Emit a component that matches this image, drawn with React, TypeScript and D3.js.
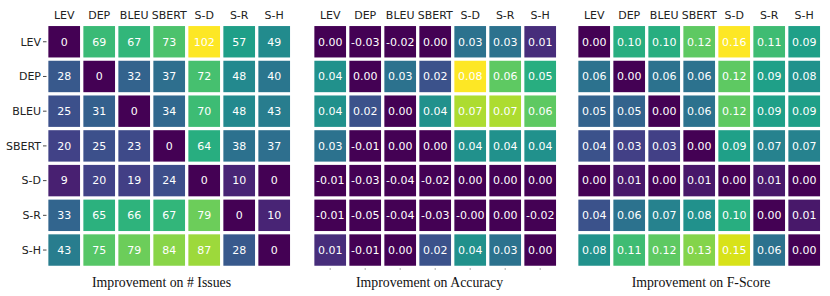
import React from 'react';
import * as d3 from 'd3';

// three heatmaps: improvement of row method over column method
const methods = ['LEV', 'DEP', 'BLEU', 'SBERT', 'S-D', 'S-R', 'S-H'];

const issuesValues = [
  [0, 69, 67, 73, 102, 57, 49],
  [28, 0, 32, 37, 72, 48, 40],
  [25, 31, 0, 34, 70, 48, 43],
  [20, 25, 23, 0, 64, 38, 37],
  [9, 20, 19, 24, 0, 10, 0],
  [33, 65, 66, 67, 79, 0, 10],
  [43, 75, 79, 84, 87, 28, 0],
];

const accuracyValues = [
  [0.0, -0.03, -0.02, 0.0, 0.03, 0.03, 0.01],
  [0.04, 0.0, 0.03, 0.02, 0.08, 0.06, 0.05],
  [0.04, 0.02, 0.0, 0.04, 0.07, 0.07, 0.06],
  [0.03, -0.01, 0.0, 0.0, 0.04, 0.04, 0.04],
  [-0.01, -0.03, -0.04, -0.02, 0.0, 0.0, 0.0],
  [-0.01, -0.05, -0.04, -0.03, -0.001, 0.0, -0.02],
  [0.01, -0.01, 0.0, 0.02, 0.04, 0.03, 0.0],
];

const fscoreValues = [
  [0.0, 0.1, 0.1, 0.12, 0.16, 0.11, 0.09],
  [0.06, 0.0, 0.06, 0.06, 0.12, 0.09, 0.08],
  [0.05, 0.05, 0.0, 0.06, 0.12, 0.09, 0.09],
  [0.04, 0.03, 0.03, 0.0, 0.09, 0.07, 0.07],
  [0.0, 0.01, 0.0, 0.01, 0.0, 0.01, 0.0],
  [0.04, 0.06, 0.07, 0.08, 0.1, 0.0, 0.01],
  [0.08, 0.11, 0.12, 0.13, 0.15, 0.06, 0.0],
];

const titles = ['Improvement on # Issues', 'Improvement on Accuracy', 'Improvement on F-Score'];

const W = 830;
const H = 296;
const sans = 'DejaVu Sans, sans-serif';

type PanelProps = {
  values: number[][];
  x0: number;
  titleX: number;
  title: string;
  fmt: (v: number) => string;
  vmax: number;
  rowLabels: boolean;
  bottomTicks: boolean;
};

function Panel({ values, x0, titleX, title, fmt, vmax, rowLabels, bottomTicks }: PanelProps) {
  const x = d3.scaleBand<string>().domain(methods).range([x0, x0 + 245]).paddingInner(0.095).paddingOuter(0.0475);
  const y = d3.scaleBand<string>().domain(methods).range([24.4, 267.4]).paddingInner(0.095).paddingOuter(0.0475);
  const color = d3.scaleSequential(d3.interpolateViridis).domain([0, vmax]).clamp(true);

  return (
    <g>
      {methods.map((c) => (
        <text key={'c' + c} x={x(c)! + x.bandwidth() / 2} y={19} textAnchor="middle" fontFamily={sans} fontSize={11} fill="#222">
          {c}
        </text>
      ))}
      {rowLabels &&
        methods.map((r) => (
          <g key={'r' + r}>
            <text x={41} y={y(r)! + y.bandwidth() / 2} dy="0.35em" textAnchor="end" fontFamily={sans} fontSize={11} fill="#222">
              {r}
            </text>
            <line x1={43} x2={46.5} y1={y(r)! + y.bandwidth() / 2} y2={y(r)! + y.bandwidth() / 2} stroke="#333" strokeWidth={0.9} />
          </g>
        ))}
      {values.map((row, i) =>
        row.map((v, j) => (
          <g key={i + '-' + j}>
            <rect x={x(methods[j])} y={y(methods[i])} width={x.bandwidth()} height={y.bandwidth()} fill={color(v)} />
            <text
              x={x(methods[j])! + x.bandwidth() / 2}
              y={y(methods[i])! + y.bandwidth() / 2}
              dy="0.35em"
              textAnchor="middle"
              fontFamily={sans}
              fontSize={11}
              fill="#fff"
            >
              {fmt(v)}
            </text>
          </g>
        ))
      )}
      {bottomTicks &&
        methods.map((c) => (
          <line key={'t' + c} x1={x(c)! + x.bandwidth() / 2} x2={x(c)! + x.bandwidth() / 2} y1={268} y2={270} stroke="#999" strokeWidth={0.8} />
        ))}
      <text x={titleX} y={287} textAnchor="middle" fontFamily="Liberation Serif, serif" fontSize={13.8} fill="#111">
        {title}
      </text>
    </g>
  );
}

export default function App() {
  const int = (v: number) => String(Math.round(v));
  const dec = (v: number) => v.toFixed(2);
  return (
    <svg width={W} height={H} style={{ position: 'absolute', left: 0, top: 0, background: '#fff' }}>
      <Panel values={issuesValues} x0={46.7} titleX={161.5} title={titles[0]} fmt={int} vmax={102} rowLabels bottomTicks={false} />
      <Panel values={accuracyValues} x0={312.7} titleX={429.5} title={titles[1]} fmt={dec} vmax={0.08} rowLabels={false} bottomTicks />
      <Panel values={fscoreValues} x0={576.7} titleX={701} title={titles[2]} fmt={dec} vmax={0.16} rowLabels={false} bottomTicks={false} />
    </svg>
  );
}
